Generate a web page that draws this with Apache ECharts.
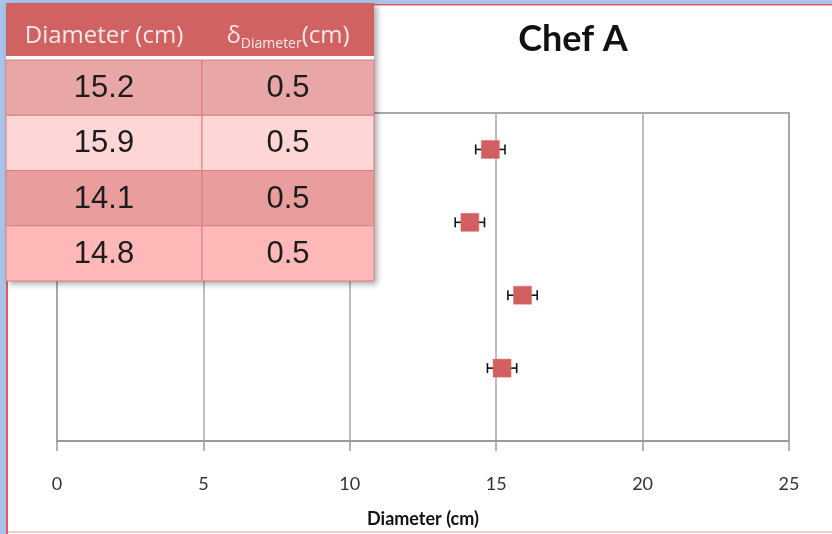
<!DOCTYPE html>
<html>
<head>
<meta charset="utf-8">
<script src="https://cdn.jsdelivr.net/npm/echarts@6/dist/echarts.min.js"></script>
<style>
  html, body { margin: 0; padding: 0; background: #fff; }
  #chart { width: 832px; height: 534px; }
</style>
</head>
<body>
<div id="chart"></div>
<script>
// Measured pizza diameters for Chef A and their uncertainties
const chartTitle = 'Chef A';
const axisName = 'Diameter (cm)';
const diameters = [15.2, 15.9, 14.1, 14.8];
const uncertainties = [0.5, 0.5, 0.5, 0.5];
const xMin = 0, xMax = 25, xStep = 5;
const headerLeft = 'Diameter (cm)';
const headerRight = '{d|δ}{sub|Diameter}{d|(cm)}';

// Table styling
const rowFills = ['#e9a6a6', '#ffd6d6', '#e99d9d', '#ffb8b8'];
const tableX = 6, tableY = 3, colSplit = 202, tableRight = 374;
const headerBottom = 56, bodyTop = 60, rowH = 55.25;

// Each measurement gets its own row in the plot, first one at the bottom
const points = diameters.map((d, i) => [d, i + 1, uncertainties[i]]);

const chart = echarts.init(document.getElementById('chart'), null, { renderer: 'canvas' });

const graphics = [];
// Slide frame
graphics.push({ type: 'rect', z: 100, shape: { x: 0, y: 0, width: 6, height: 534 }, style: { fill: '#a9c3ea' } });
graphics.push({ type: 'rect', z: 100, shape: { x: 0, y: 0, width: 832, height: 4 }, style: { fill: '#a9c3ea' } });
graphics.push({ type: 'rect', z: 101, shape: { x: 6, y: 4, width: 826, height: 1.5 }, style: { fill: '#d9625f' } });
graphics.push({ type: 'rect', z: 101, shape: { x: 6, y: 4, width: 2, height: 530 }, style: { fill: '#d9625f' } });
graphics.push({ type: 'rect', z: 101, shape: { x: 8, y: 531, width: 824, height: 2 }, style: { fill: '#f2cccc' } });

// Data table
const tableBottom = bodyTop + rowH * diameters.length;
graphics.push({
  type: 'rect', z: 110,
  shape: { x: tableX, y: tableY, width: tableRight - tableX, height: tableBottom - tableY },
  style: { fill: '#d06262', shadowBlur: 6, shadowOffsetX: 3, shadowOffsetY: 3, shadowColor: 'rgba(0,0,0,0.35)' }
});
graphics.push({ type: 'rect', z: 111, shape: { x: tableX, y: headerBottom, width: tableRight - tableX, height: bodyTop - headerBottom }, style: { fill: '#ffffff' } });
graphics.push({
  type: 'text', z: 112,
  style: { text: headerLeft, x: (tableX + colSplit) / 2, y: 36, align: 'center', verticalAlign: 'middle',
           fill: '#fbe9e9', font: '24px "Open Sans", sans-serif' }
});
graphics.push({
  type: 'text', z: 112,
  style: {
    text: headerRight, x: (colSplit + tableRight) / 2, y: 36, align: 'center', verticalAlign: 'middle',
    rich: {
      d: { fill: '#fbe9e9', fontFamily: 'Open Sans', fontSize: 24, verticalAlign: 'middle' },
      sub: { fill: '#fbe9e9', fontFamily: 'Open Sans', fontSize: 14, padding: [16, 0, 0, 0] }
    }
  }
});
diameters.forEach((d, i) => {
  const top = bodyTop + i * rowH;
  graphics.push({ type: 'rect', z: 111, shape: { x: tableX, y: top, width: colSplit - tableX, height: rowH },
                  style: { fill: rowFills[i], stroke: '#dc7e7e', lineWidth: 1 } });
  graphics.push({ type: 'rect', z: 111, shape: { x: colSplit, y: top, width: tableRight - colSplit, height: rowH },
                  style: { fill: rowFills[i], stroke: '#dc7e7e', lineWidth: 1 } });
  graphics.push({ type: 'text', z: 112,
    style: { text: d.toFixed(1), x: (tableX + colSplit) / 2, y: top + rowH / 2 + 1, align: 'center', verticalAlign: 'middle',
             fill: '#1c1c1c', font: '31px "Liberation Sans", sans-serif' } });
  graphics.push({ type: 'text', z: 112,
    style: { text: uncertainties[i].toFixed(1), x: (colSplit + tableRight) / 2, y: top + rowH / 2 + 1, align: 'center', verticalAlign: 'middle',
             fill: '#1c1c1c', font: '31px "Liberation Sans", sans-serif' } });
});

const option = {
  animation: false,
  backgroundColor: '#ffffff',
  title: {
    text: chartTitle, left: 568, top: 16, textAlign: 'center',
    textStyle: { fontFamily: 'Lato', fontWeight: 'bold', fontSize: 36, color: '#111' }
  },
  grid: {
    left: 57, right: 43, top: 113, bottom: 93,
    outerBoundsMode: 'none', containLabel: false,
    show: true, borderColor: '#a8a8a8', borderWidth: 2, backgroundColor: 'transparent'
  },
  xAxis: {
    type: 'value', min: xMin, max: xMax, interval: xStep,
    name: axisName, nameLocation: 'middle', nameGap: 69,
    nameTextStyle: { fontFamily: 'Lato', fontWeight: 'bold', fontSize: 18, color: '#111' },
    axisLine: { show: true, lineStyle: { color: '#9a9a9a', width: 2 } },
    axisTick: { show: true, length: 10, lineStyle: { color: '#9a9a9a', width: 1.5 } },
    axisLabel: { margin: 34, fontFamily: 'Lato', fontSize: 18, color: '#333' },
    splitLine: { show: true, lineStyle: { color: '#a8a8a8', width: 1.5 } }
  },
  yAxis: {
    type: 'value', min: 0, max: 4.5, show: false
  },
  series: [
    {
      type: 'custom',
      data: points,
      z: 3,
      renderItem(params, api) {
        const x = api.value(0), y = api.value(1), e = api.value(2);
        const l = api.coord([x - e, y]);
        const r = api.coord([x + e, y]);
        const cap = 5;
        const st = { stroke: '#151515', lineWidth: 1.6 };
        return {
          type: 'group',
          children: [
            { type: 'line', shape: { x1: l[0], y1: l[1], x2: r[0], y2: r[1] }, style: st },
            { type: 'line', shape: { x1: l[0], y1: l[1] - cap, x2: l[0], y2: l[1] + cap }, style: st },
            { type: 'line', shape: { x1: r[0], y1: r[1] - cap, x2: r[0], y2: r[1] + cap }, style: st }
          ]
        };
      }
    },
    {
      type: 'scatter',
      data: points.map(p => [p[0], p[1]]),
      symbol: 'rect',
      symbolSize: 18,
      z: 4,
      itemStyle: { color: '#d15f5f', opacity: 1, borderColor: '#dd7373', borderWidth: 0.5 }
    }
  ],
  graphic: graphics
};

chart.setOption(option);
</script>
</body>
</html>
